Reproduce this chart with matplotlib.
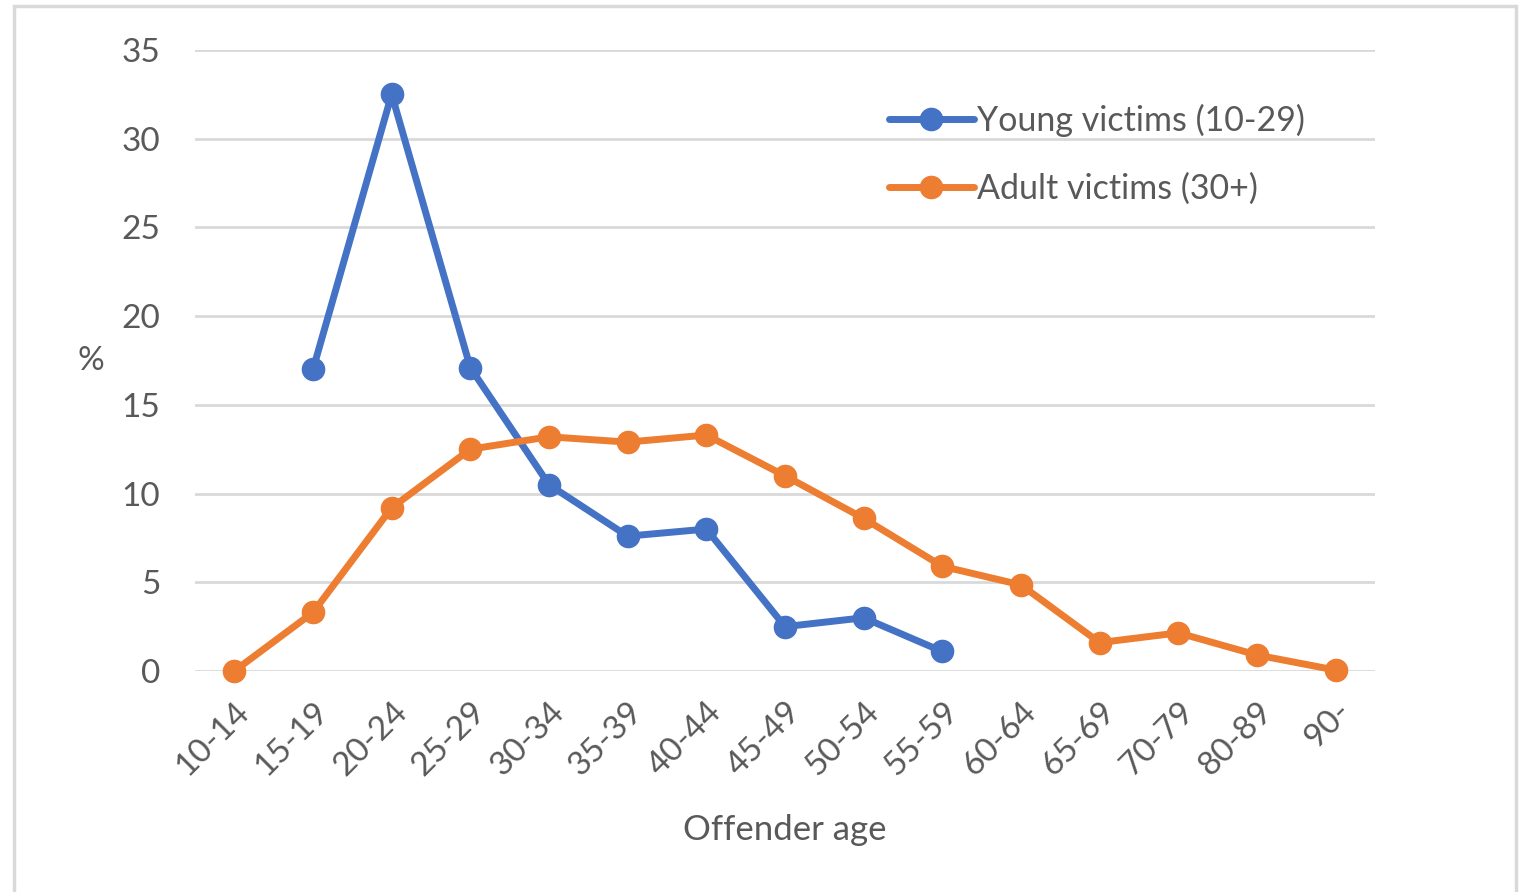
import matplotlib
matplotlib.use("Agg")
import matplotlib.pyplot as plt
from matplotlib.patches import Rectangle

age_groups = ["10-14", "15-19", "20-24", "25-29", "30-34", "35-39", "40-44", "45-49",
              "50-54", "55-59", "60-64", "65-69", "70-79", "80-89", "90-"]
young = [None, 17.0, 32.5, 17.1, 10.5, 7.6, 8.0, 2.5, 3.0, 1.1, None, None, None, None, None]
adult = [0.0, 3.3, 9.2, 12.5, 13.2, 12.9, 13.3, 11.0, 8.6, 5.9, 4.85, 1.6, 2.15, 0.9, 0.05]

BLUE = "#4472C4"
ORANGE = "#ED7D31"
GRID = "#D9D9D9"
TEXT = "#595959"

plt.rcParams["font.family"] = ["Lato", "DejaVu Sans"]

W, H = 1519, 892
fig = plt.figure(figsize=(W / 100, H / 100), dpi=100)
ax = fig.add_axes([195 / W, 1 - 671 / H, (1375 - 195) / W, (671 - 50) / H])

x = list(range(len(age_groups)))
yx = [i for i, v in zip(x, young) if v is not None]
yv = [v for v in young if v is not None]
ax.plot(yx, yv, color=BLUE, lw=5, marker="o", ms=16, label="Young victims (10-29)",
        solid_capstyle="round", zorder=3, clip_on=False)
ax.plot(x, adult, color=ORANGE, lw=5, marker="o", ms=16, label="Adult victims (30+)",
        solid_capstyle="round", zorder=3, clip_on=False)

ax.set_xlim(-0.5, len(age_groups) - 0.5)
ax.set_ylim(0, 35)
ax.set_yticks(range(0, 36, 5))
ax.set_xticks(x)
ax.set_xticklabels(age_groups, rotation=45, ha="right", rotation_mode="anchor")
ax.tick_params(axis="both", length=0, labelsize=24, labelcolor=TEXT)
ax.tick_params(axis="y", pad=25)
ax.tick_params(axis="x", pad=18)
ax.grid(axis="y", color=GRID, lw=2)
ax.set_axisbelow(True)
for s in ax.spines.values():
    s.set_visible(False)

ax.set_ylabel("%", rotation=0, fontsize=24, color=TEXT, labelpad=22, va="center")
ax.set_xlabel("Offender age", fontsize=25, color=TEXT, labelpad=24)

leg = ax.legend(loc="upper left", bbox_to_anchor=(858 / W, 1 - 73 / H),
                bbox_transform=fig.transFigure, frameon=False, fontsize=24.5,
                handlelength=2.5, handletextpad=0.1, labelspacing=1.05)
for t in leg.get_texts():
    t.set_color(TEXT)

fig.patches.append(Rectangle((14 / W, -0.01), (1516 - 14) / W, 1.01 - 6 / H,
                             transform=fig.transFigure, fill=False, ec="#D9D9D9", lw=2.5))

fig.savefig("out.png", dpi=100)
